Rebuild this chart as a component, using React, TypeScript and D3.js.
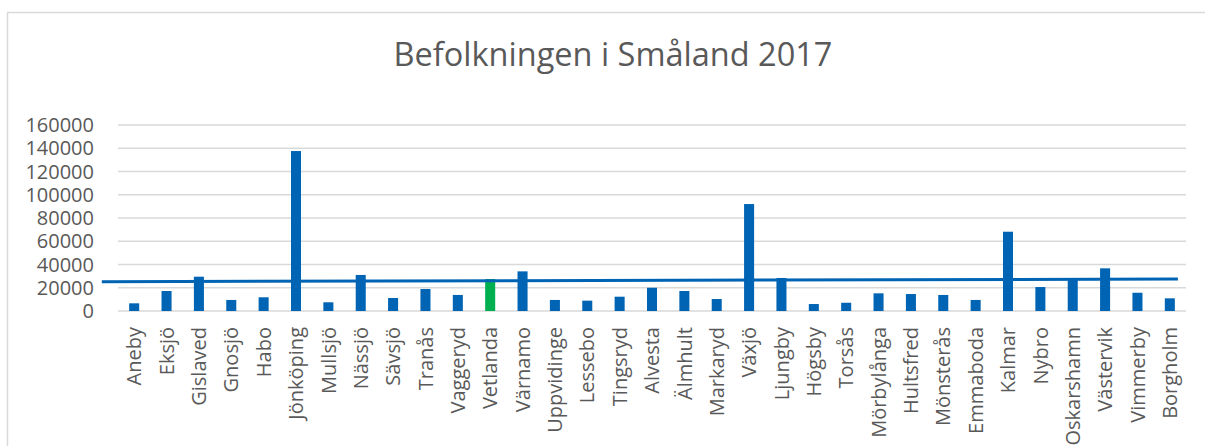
import * as d3 from "d3";

const KOMMUNER = [
  "Aneby", "Eksjö", "Gislaved", "Gnosjö", "Habo", "Jönköping", "Mullsjö", "Nässjö",
  "Sävsjö", "Tranås", "Vaggeryd", "Vetlanda", "Värnamo", "Uppvidinge", "Lessebo",
  "Tingsryd", "Alvesta", "Älmhult", "Markaryd", "Växjö", "Ljungby", "Högsby", "Torsås",
  "Mörbylånga", "Hultsfred", "Mönsterås", "Emmaboda", "Kalmar", "Nybro", "Oskarshamn",
  "Västervik", "Vimmerby", "Borgholm",
];

const BEFOLKNING = [
  6600, 17200, 29500, 9500, 11800, 137600, 7500, 31000,
  11200, 18900, 13800, 27500, 34100, 9500, 8900,
  12300, 20000, 17200, 10300, 92000, 28400, 6000, 7100,
  15200, 14600, 13800, 9500, 68200, 20600, 26700,
  36700, 15700, 10900,
];

const MARKERAD = "Vetlanda";

// handritad linje (ungefärligt snitt), i kategoriindex och värde
const LINJE_X = [-1, 32.25];
const LINJE_Y = [25200, 27500];

const Y_TICKS = [0, 20000, 40000, 60000, 80000, 100000, 120000, 140000, 160000];

const W = 1205;
const H = 446;
const FONT = "'Open Sans', 'DejaVu Sans', sans-serif";
const GREY = "#595959";

export default function App() {
  const x = d3
    .scaleBand<string>()
    .domain(KOMMUNER)
    .range([118, 1186])
    .paddingInner(0.69)
    .paddingOuter(0.345);

  const y = d3.scaleLinear().domain([0, 160000]).range([311, 125]);

  const step = x.step();
  const first = x(KOMMUNER[0])! + x.bandwidth() / 2;
  const idx = d3
    .scaleLinear()
    .domain([0, KOMMUNER.length - 1])
    .range([first, first + step * (KOMMUNER.length - 1)]);

  const line = d3
    .line<number>()
    .x((_, i) => idx(LINJE_X[i]))
    .y((d) => y(d));

  return (
    <svg
      width={W}
      height={H}
      style={{ position: "absolute", left: 0, top: 0, background: "#fff" }}
      fontFamily={FONT}
    >
      <rect x={7.5} y={12.5} width={1220} height={460} fill="#fff" stroke="#d9d9d9" strokeWidth={1.5} />

      <text x={613} y={66} textAnchor="middle" fontSize={32.5} fill={GREY}>
        Befolkningen i Småland 2017
      </text>

      {Y_TICKS.map((t) => (
        <g key={t}>
          <line x1={118} x2={1186} y1={y(t)} y2={y(t)} stroke="#d9d9d9" strokeWidth={1.6} />
          <text x={94} y={y(t)} dy="0.36em" textAnchor="end" fontSize={20} fill={GREY}>
            {t}
          </text>
        </g>
      ))}

      {KOMMUNER.map((k, i) => (
        <rect
          key={k}
          x={x(k)}
          y={y(BEFOLKNING[i])}
          width={x.bandwidth()}
          height={y(0) - y(BEFOLKNING[i])}
          fill={k === MARKERAD ? "#00b050" : "#0064b4"}
        />
      ))}

      <path d={line(LINJE_Y) ?? ""} fill="none" stroke="#0064b4" strokeWidth={3} />

      {KOMMUNER.map((k) => {
        const cx = x(k)! + x.bandwidth() / 2;
        return (
          <text
            key={k}
            transform={`translate(${cx},327) rotate(-90)`}
            dy="0.36em"
            textAnchor="end"
            fontSize={20}
            fill={GREY}
          >
            {k}
          </text>
        );
      })}
    </svg>
  );
}
